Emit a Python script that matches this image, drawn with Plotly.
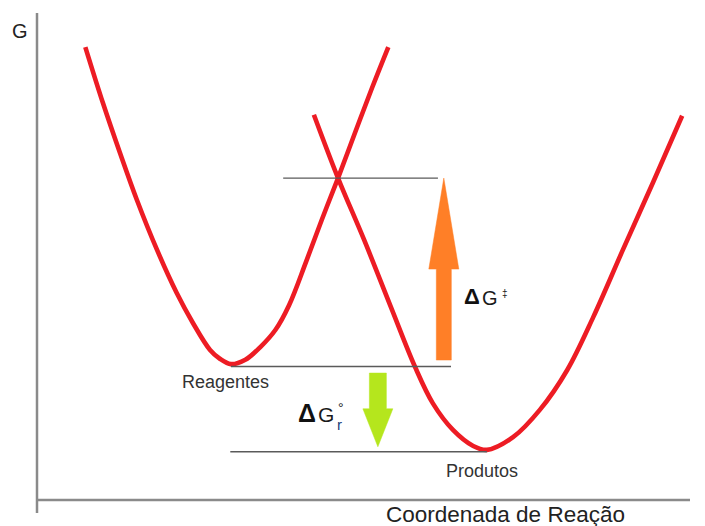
import plotly.graph_objects as go

# Free-energy wells sampled along the reaction coordinate
reag_x = [0.74, 1.01, 1.27, 1.53, 1.84, 2.14, 2.39, 2.65, 2.80, 2.97, 3.19, 3.42, 3.65, 3.86, 4.12, 4.36, 4.61, 4.87, 5.13, 5.38]
reag_g = [9.30, 8.15, 7.13, 6.16, 5.13, 4.25, 3.63, 3.08, 2.90, 2.79, 2.88, 3.14, 3.49, 4.00, 4.89, 5.75, 6.61, 7.54, 8.46, 9.30]
prod_x = [4.24, 4.61, 5.01, 5.42, 5.79, 6.06, 6.37, 6.68, 6.89, 7.29, 7.70, 8.12, 8.52, 8.97, 9.43, 9.88]
prod_g = [7.91, 6.61, 5.34, 3.96, 2.73, 1.99, 1.44, 1.11, 1.03, 1.29, 1.85, 2.67, 3.76, 5.13, 6.51, 7.89]

# Energy levels: transition state, reactants, products
g_ts = 6.61
g_reag = 2.74
g_prod = 0.99

# Horizontal extent of each level marker
ts_span = [3.77, 6.14]
reag_span = [2.97, 6.34]
prod_span = [2.96, 6.89]

# Arrow positions on the reaction-coordinate axis
act_arrow_x = 6.23
rxn_arrow_x = 5.22

W, H = 705, 526
PX_X, PX_Y = 65.3, 48.7          # pixels per axis unit
ORIGIN_X, ORIGIN_Y = 37, 500     # pixel position of the axis origin

x_range = [-ORIGIN_X / PX_X, (W - ORIGIN_X) / PX_X]
y_range = [-(H - ORIGIN_Y) / PX_Y, ORIGIN_Y / PX_Y]

RED = "#ED1C24"
ORANGE = "#FF7F27"
GREEN = "#B5E61D"
LEVEL = "#5a5a5a"
AXIS = "#8a8a8a"
FONT = "Arial, Liberation Sans, sans-serif"


def arrow(xc, g_from, g_to, shaft_px, head_px, head_len_px):
    """Block arrow polygon from g_from pointing to g_to."""
    sw = shaft_px / 2 / PX_X
    hw = head_px / 2 / PX_X
    d = 1 if g_to > g_from else -1
    hb = g_to - d * head_len_px / PX_Y
    xs = [xc - sw, xc - sw, xc - hw, xc, xc + hw, xc + sw, xc + sw, xc - sw]
    ys = [g_from, hb, hb, g_to, hb, hb, g_from, g_from]
    return xs, ys


fig = go.Figure()

for xs, gs in ((reag_x, reag_g), (prod_x, prod_g)):
    fig.add_trace(go.Scatter(
        x=xs, y=gs, mode="lines",
        line=dict(color=RED, width=4.6, shape="spline", smoothing=1.0),
        hoverinfo="skip", showlegend=False,
    ))

for span, g in ((ts_span, g_ts), (reag_span, g_reag), (prod_span, g_prod)):
    fig.add_trace(go.Scatter(
        x=span, y=[g, g], mode="lines",
        line=dict(color=LEVEL, width=1.4),
        hoverinfo="skip", showlegend=False,
    ))

# Activation energy arrow (reactants -> transition state)
ax, ay = arrow(act_arrow_x, g_reag + 6.5 / PX_Y, g_ts, 15, 30, 91)
fig.add_trace(go.Scatter(x=ax, y=ay, fill="toself", fillcolor=ORANGE, mode="lines",
                         line=dict(color=ORANGE, width=0.5), hoverinfo="skip", showlegend=False))

# Reaction free energy arrow (reactants -> products)
bx, by = arrow(rxn_arrow_x, g_reag - 6.5 / PX_Y, g_prod + 5 / PX_Y, 17, 30, 38)
fig.add_trace(go.Scatter(x=bx, y=by, fill="toself", fillcolor=GREEN, mode="lines",
                         line=dict(color=GREEN, width=0.5), hoverinfo="skip", showlegend=False))

# Axes drawn as plain lines; the vertical one runs slightly past the origin
fig.add_shape(type="line", x0=0, x1=0, y0=-13 / PX_Y, y1=487 / PX_Y,
              line=dict(color=AXIS, width=2.5))
fig.add_shape(type="line", x0=0, x1=10.0, y0=0, y1=0,
              line=dict(color=AXIS, width=2.5))


def label(x, y, text, size, color="#222222", bold=False):
    fig.add_annotation(x=x, y=y, text=f"<b>{text}</b>" if bold else text,
                       showarrow=False, xanchor="center", yanchor="middle",
                       font=dict(family=FONT, size=size, color=color))


label(-0.26, 9.63, "G", 20)
label(7.18, -0.29, "Coordenada de Reação", 22.5)
label(2.89, 2.42, "Reagentes", 18, "#333333")
label(6.81, 0.60, "Produtos", 18, "#333333")

# ΔG‡
label(6.66, 4.17, "Δ", 22, "#111111", bold=True)
label(6.93, 4.15, "G", 20, "#1a1a1a")
label(7.16, 4.25, "‡", 10, "#1a1a1a")

# ΔG°r
label(4.13, 1.79, "Δ", 25, "#111111", bold=True)
label(4.43, 1.75, "G", 21, "#1a1a1a")
label(4.66, 1.88, "°", 14, "#1a1a1a")
label(4.64, 1.55, "r", 15, "#1a3f7a")

fig.update_layout(
    width=W, height=H,
    margin=dict(l=0, r=0, t=0, b=0),
    paper_bgcolor="white", plot_bgcolor="white",
    xaxis=dict(range=x_range, visible=False, fixedrange=True),
    yaxis=dict(range=y_range, visible=False, fixedrange=True),
    showlegend=False,
)

fig.write_html("out.html")
